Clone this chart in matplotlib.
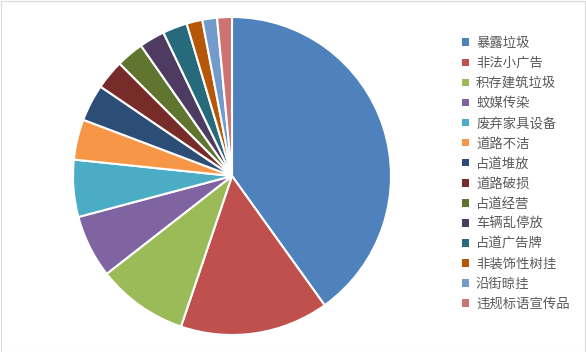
import matplotlib
matplotlib.use('Agg')
import matplotlib.pyplot as plt
from matplotlib.patches import Patch, Rectangle

plt.rcParams['font.family'] = ['Noto Sans CJK SC', 'DejaVu Sans']

# - Data -----------------------------------------------------------------------
categories = [
    '暴露垃圾', '非法小广告', '积存建筑垃圾', '蚊媒传染', '废弃家具设备',
    '道路不洁', '占道堆放', '道路破损', '占道经营', '车辆乱停放',
    '占道广告牌', '非装饰性树挂', '沿街晾挂', '违规标语宣传品'
]
shares = [40.1, 15.1, 9.25, 6.4, 5.8, 4.1, 3.75, 3.0, 2.8, 2.6, 2.5, 1.6, 1.5, 1.5]
colors = [
    '#4F81BD', '#C0504D', '#9BBB59', '#8064A2', '#4BACC6', '#F79646', '#2C4D75',
    '#772C2A', '#5F7530', '#4D3B62', '#276A7C', '#B65708', '#729ACA', '#CD7371'
]

# - Figure ---------------------------------------------------------------------
fig = plt.figure(figsize=(5.86, 3.52), dpi=100)
fig.patch.set_facecolor('white')

ax = fig.add_axes([73 / 586, (352 - 335) / 352, 318 / 586, 318 / 352])
ax.pie(shares, colors=colors, startangle=90, counterclock=False, radius=1,
       wedgeprops=dict(edgecolor='white', linewidth=1.5))
ax.set_xlim(-1.0, 1.0)
ax.set_ylim(-1.0, 1.0)
ax.set_aspect('equal')
ax.axis('off')

handles = [Patch(facecolor=c, edgecolor='none') for c in colors]
fig.legend(handles, categories, loc='upper left',
           bbox_to_anchor=(462 / 586, 1 - 36 / 352), frameon=False,
           fontsize=9.6, labelcolor='#595959', handlelength=0.5,
           handleheight=0.5, handletextpad=0.55, labelspacing=0.455,
           borderaxespad=0, borderpad=0)

# light chart border
fig.add_artist(Rectangle((0.5 / 586, 0.5 / 352), 1 - 1.5 / 586, 1 - 1.5 / 352,
                         transform=fig.transFigure, fill=False,
                         edgecolor='#D9D9D9', linewidth=0.8))

fig.savefig('out.png', dpi=100)
